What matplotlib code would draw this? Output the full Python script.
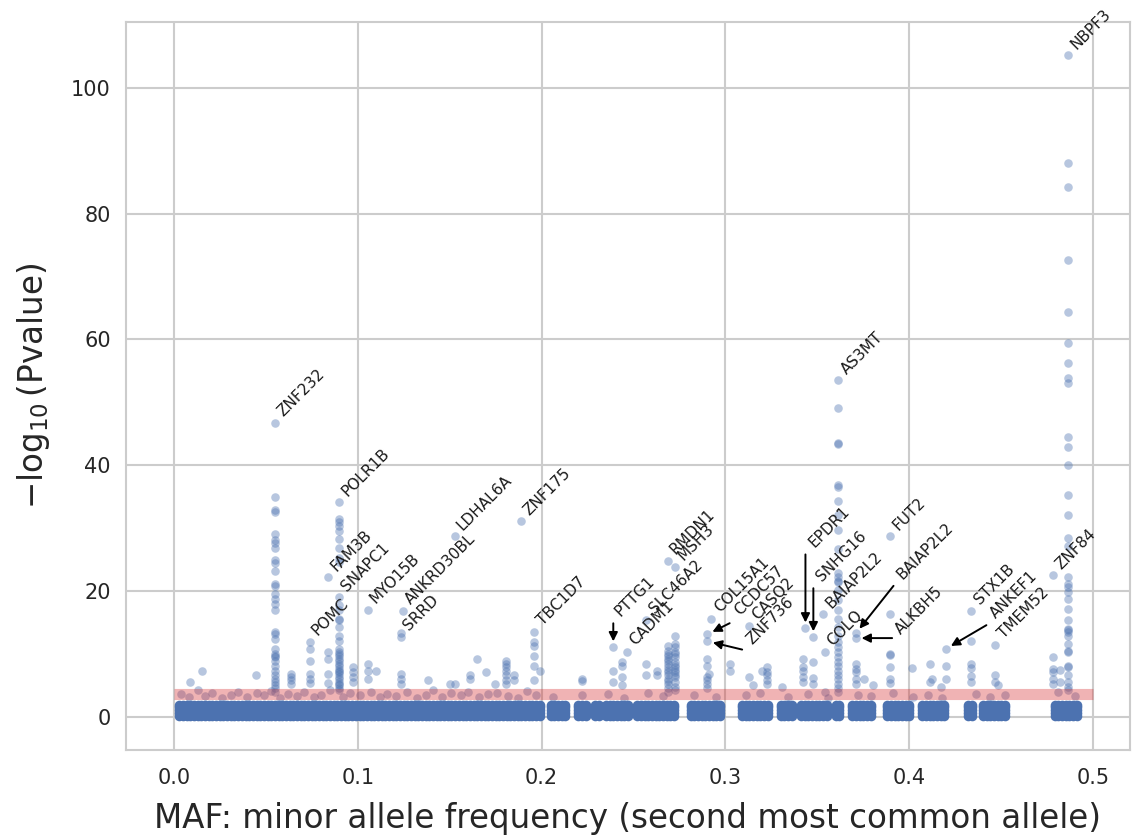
import matplotlib
matplotlib.use("Agg")
import matplotlib.pyplot as plt

# dense band of SNPs near the bottom: MAF of each column of the band
base_maf = [0.003, 0.005, 0.007, 0.009, 0.011, 0.013, 0.015, 0.017, 0.019, 0.021,
            0.023, 0.025, 0.027, 0.029, 0.031, 0.033, 0.035, 0.037, 0.039, 0.041,
            0.043, 0.045, 0.047, 0.049, 0.051, 0.053, 0.055, 0.057, 0.059, 0.061,
            0.063, 0.065, 0.067, 0.069, 0.071, 0.073, 0.075, 0.077, 0.079, 0.081,
            0.083, 0.085, 0.087, 0.089, 0.091, 0.093, 0.095, 0.097, 0.099, 0.101,
            0.103, 0.105, 0.107, 0.109, 0.111, 0.113, 0.115, 0.117, 0.119, 0.121,
            0.123, 0.125, 0.127, 0.129, 0.131, 0.133, 0.135, 0.137, 0.139, 0.141,
            0.143, 0.145, 0.147, 0.149, 0.151, 0.153, 0.155, 0.157, 0.159, 0.161,
            0.163, 0.165, 0.167, 0.169, 0.171, 0.173, 0.175, 0.177, 0.179, 0.181,
            0.183, 0.185, 0.187, 0.189, 0.191, 0.193, 0.195, 0.197, 0.199,
            0.205, 0.207, 0.209, 0.211, 0.213,
            0.220, 0.222, 0.224,
            0.229, 0.231,
            0.235, 0.237, 0.239, 0.241, 0.243, 0.245, 0.247,
            0.252, 0.254, 0.256, 0.258, 0.260, 0.262, 0.264, 0.266, 0.268, 0.270, 0.272,
            0.281, 0.283, 0.285, 0.287, 0.289, 0.291, 0.293, 0.295, 0.297,
            0.309, 0.311, 0.313, 0.315, 0.317, 0.319, 0.321, 0.323,
            0.330, 0.332, 0.334, 0.336,
            0.341, 0.343, 0.345, 0.347, 0.349, 0.351, 0.353, 0.355,
            0.360, 0.362,
            0.369, 0.371, 0.373, 0.375, 0.377, 0.379,
            0.388, 0.390, 0.392, 0.394, 0.396, 0.398, 0.400,
            0.407, 0.409, 0.411, 0.413, 0.415, 0.417, 0.419,
            0.432, 0.434,
            0.440, 0.442, 0.444, 0.446, 0.448, 0.450, 0.452,
            0.479, 0.481, 0.483, 0.485, 0.487, 0.489, 0.491]
# -log10 p values filling each column of the band
base_levels = [0.1, 0.6, 1.1, 1.5, 1.9]

# loose SNPs inside the threshold band
band_maf = [0.004, 0.008, 0.013, 0.017, 0.021, 0.026, 0.031, 0.035, 0.040, 0.045,
            0.049, 0.053, 0.058, 0.062, 0.067, 0.071, 0.076, 0.080, 0.085, 0.092,
            0.096, 0.101, 0.107, 0.112, 0.116, 0.121, 0.127, 0.132, 0.137, 0.141,
            0.146, 0.151, 0.156, 0.160, 0.166, 0.171, 0.176, 0.182, 0.187, 0.192,
            0.197, 0.206, 0.222, 0.236, 0.245, 0.258, 0.266, 0.283, 0.295, 0.311,
            0.319, 0.334, 0.345, 0.356, 0.372, 0.379, 0.391, 0.402, 0.410, 0.418,
            0.436, 0.444, 0.452, 0.481, 0.490]
band_logp = [3.6, 3.1, 4.2, 3.3, 3.8, 3.0, 3.5, 4.0, 3.2, 3.7,
             3.4, 4.1, 3.0, 3.6, 3.3, 3.9, 3.1, 3.5, 4.3, 3.2,
             3.8, 3.4, 4.0, 3.1, 3.6, 3.3, 3.9, 3.0, 3.5, 4.2,
             3.2, 3.7, 3.4, 4.0, 3.1, 3.6, 3.8, 3.3, 3.0, 4.1,
             3.5, 3.2, 3.4, 3.6, 3.0, 3.8, 3.3, 3.5, 3.1, 3.4,
             3.7, 3.2, 3.6, 3.0, 3.5, 3.3, 3.8, 3.1, 3.4, 3.0,
             3.6, 3.2, 3.5, 3.9, 3.3]

# vertical stacks of strongly associated SNPs
stack_maf = [0.0549, 0.0897, 0.2685, 0.2728, 0.3614, 0.4864]
stack_logp = [
    [35.0, 32.9, 32.6, 29.0, 28.1, 27.7, 26.9, 24.9, 24.4, 23.2, 21.1, 20.8,
     19.5, 18.7, 17.9, 16.9, 13.4, 13.2, 12.4, 10.8, 10.0, 9.7, 9.5, 8.9, 8.1,
     7.3, 6.6, 6.0, 5.5, 5.0, 4.5, 4.0],
    [31.4, 30.9, 30.4, 29.6, 28.3, 26.9, 25.3, 24.6, 17.7, 16.9, 15.6, 15.3,
     14.2, 12.9, 12.1, 10.8, 10.3, 10.0, 9.7, 9.2, 8.8, 8.4, 8.0, 7.6, 7.3,
     7.1, 6.8, 6.3, 6.0, 5.5, 5.2, 5.0, 4.6, 4.2],
    [11.3, 10.5, 10.0, 9.6, 9.2, 8.8, 8.4, 7.9, 7.5, 7.1, 6.6, 6.0, 5.6, 5.2,
     4.5, 4.0],
    [12.9, 11.6, 11.1, 10.3, 9.9, 9.5, 8.7, 8.3, 7.9, 7.5, 7.1, 6.7, 6.3, 5.5,
     4.8, 4.2],
    [49.1, 43.6, 43.4, 36.9, 36.5, 34.3, 32.1, 29.7, 26.7, 22.8, 22.2, 21.6,
     21.4, 20.1, 18.5, 16.9, 15.6, 14.2, 12.9, 11.9, 11.1, 10.3, 9.5, 8.7, 8.1,
     7.3, 6.6, 6.0, 5.2, 4.6, 4.0],
    [88.0, 84.3, 72.6, 64.3, 59.5, 56.3, 53.8, 53.0, 44.5, 42.9, 40.0, 35.3,
     32.1, 28.5, 27.2, 22.2, 21.1, 20.7, 19.8, 18.7, 17.1, 15.3, 14.0, 13.8,
     13.5, 12.9, 11.6, 10.5, 10.3, 8.1, 7.9, 6.6, 5.5, 4.8, 4.2],
]

# other SNPs above the band
other_maf = [0.0087, 0.0152, 0.0446, 0.0636, 0.0636, 0.0636, 0.0636, 0.0739, 0.0739, 0.0739,
             0.0739, 0.0739, 0.0837, 0.0837, 0.0837, 0.0837, 0.0973, 0.0973, 0.0973, 0.0973,
             0.1054, 0.1054, 0.1054, 0.1098, 0.1234, 0.1234, 0.1234, 0.1234, 0.1380, 0.1527,
             0.1500, 0.1610, 0.1610, 0.1650, 0.1696, 0.1745, 0.1804, 0.1804, 0.1804, 0.1804,
             0.1804, 0.1804, 0.1804, 0.1848, 0.1848, 0.1960, 0.1960, 0.1960, 0.1960, 0.1960,
             0.1990, 0.2220, 0.2220, 0.2390, 0.2390, 0.2440, 0.2440, 0.2440, 0.2440, 0.2570,
             0.2570, 0.2630, 0.2630, 0.2902, 0.2902, 0.2902, 0.2902, 0.2902, 0.2902, 0.2910,
             0.3027, 0.3027, 0.3130, 0.3150, 0.3228, 0.3228, 0.3228, 0.3228, 0.3228, 0.3200,
             0.3310, 0.3424, 0.3424, 0.3424, 0.3424, 0.3424, 0.3478, 0.3478, 0.3478, 0.3540,
             0.3710, 0.3710, 0.3710, 0.3710, 0.3710, 0.3755, 0.3800, 0.3897, 0.3897, 0.3897,
             0.3897, 0.3897, 0.3897, 0.4016, 0.4110, 0.4110, 0.4125, 0.4170, 0.4200, 0.4200,
             0.4337, 0.4337, 0.4337, 0.4337, 0.4337, 0.4467, 0.4467, 0.4480, 0.4780, 0.4780,
             0.4780, 0.4780, 0.4780, 0.4820, 0.4820]
other_logp = [5.5, 7.3, 6.6, 6.8, 6.3, 5.8, 5.2, 10.8, 8.8, 6.8,
              6.0, 5.4, 10.3, 9.2, 6.8, 5.4, 7.9, 7.1, 6.3, 5.5,
              8.4, 7.3, 6.0, 7.3, 13.3, 6.8, 6.0, 5.2, 5.8, 5.2,
              5.2, 6.6, 6.0, 9.2, 7.1, 5.2, 8.9, 8.4, 7.9, 7.3,
              6.6, 5.8, 5.2, 6.6, 5.8, 11.9, 11.3, 9.7, 8.1, 5.8,
              7.2, 6.0, 5.6, 7.3, 5.5, 8.7, 8.1, 6.3, 5.0, 8.4,
              6.6, 7.3, 6.6, 9.2, 8.1, 6.3, 5.8, 5.2, 4.6, 6.8,
              8.4, 7.3, 6.3, 5.0, 7.9, 7.1, 6.6, 5.8, 5.2, 7.3,
              4.7, 9.2, 7.9, 7.3, 6.3, 5.5, 8.7, 6.1, 5.2, 4.0,
              8.4, 7.6, 7.1, 6.0, 5.2, 6.0, 5.0, 16.3, 10.0, 9.8,
              7.9, 6.0, 5.4, 7.7, 8.4, 5.5, 6.0, 4.7, 8.1, 6.0,
              12.0, 8.4, 7.7, 6.4, 5.5, 6.6, 5.5, 5.0, 9.5, 7.6,
              7.1, 6.0, 5.2, 7.5, 5.5]

# labelled genes (text next to the point)
gene_names = ["ZNF232", "POLR1B", "FAM3B", "SNAPC1", "POMC", "MYO15B", "ANKRD30BL",
              "SRRD", "LDHAL6A", "ZNF175", "TBC1D7", "CADM1", "SLC46A2", "RMDN1",
              "MSH3", "COL15A1", "CASQ2", "BAIAP2L2", "COLQ", "AS3MT", "FUT2",
              "STX1B", "TMEM52", "ZNF84", "NBPF3"]
gene_maf = [0.0549, 0.0897, 0.0837, 0.0897, 0.0739, 0.1054, 0.1245,
            0.1234, 0.1527, 0.1886, 0.1960, 0.2462, 0.2570, 0.2685,
            0.2728, 0.2924, 0.3130, 0.3533, 0.3540, 0.3614, 0.3897,
            0.4337, 0.4467, 0.4780, 0.4864]
gene_logp = [46.7, 34.1, 22.2, 19.0, 11.9, 17.0, 16.8,
             12.7, 28.7, 31.1, 13.5, 10.3, 15.4, 24.8,
             23.8, 15.6, 14.4, 16.3, 10.3, 53.5, 28.7,
             16.8, 11.4, 22.5, 105.2]

# labelled genes (text placed away, with an arrow)
arrow_names = ["PTTG1", "CCDC57", "ZNF736", "EPDR1", "SNHG16", "BAIAP2L2", "ALKBH5", "ANKEF1"]
arrow_maf = [0.2390, 0.2902, 0.2902, 0.3435, 0.3478, 0.3710, 0.3710, 0.4200]
arrow_logp = [11.1, 13.1, 12.0, 14.1, 12.7, 13.3, 12.5, 10.8]

# layout: offsets in points (arrow tail, text anchor)
arrow_tail = [(0, 17), (16, 8), (25, -6), (0, 53), (0, 35), (27, 34), (26, 0), (29, 17)]
arrow_text = [(7, 20), (25, 12), (34, -4), (8, 56), (8, 38), (35, 37), (34, 1), (37, 20)]

blue = "#4C72B0"
grid = "#cccccc"

fig = plt.figure(figsize=(11.32, 8.4), dpi=100)
ax = fig.add_axes([126 / 1132, 90 / 840, 1004 / 1132, 728 / 840])

bx, by = [], []
for m in base_maf:
    for lv in base_levels:
        bx.append(m)
        by.append(lv)
ax.scatter(bx, by, s=48, color=blue, linewidths=0, alpha=1.0, zorder=2)

sx, sy = [], []
for m, vals in zip(stack_maf, stack_logp):
    sx += [m] * len(vals)
    sy += vals
ax.scatter(band_maf + other_maf + sx + gene_maf + arrow_maf,
           band_logp + other_logp + sy + gene_logp + arrow_logp,
           s=38, color=blue, linewidths=0, alpha=0.4, zorder=2)

ax.hlines(3.55, 0.0, 0.5, color="tab:red", alpha=0.35, linewidth=8, zorder=3)

for name, m, p in zip(gene_names, gene_maf, gene_logp):
    ax.annotate(name, (m, p), xytext=(7.5, 2.5), textcoords="offset points",
                rotation=45, rotation_mode="anchor", ha="left", va="bottom",
                fontsize=11, color="#1a1a1a", zorder=5)

for name, m, p, tail, txt in zip(arrow_names, arrow_maf, arrow_logp, arrow_tail, arrow_text):
    ax.annotate("", (m, p), xytext=tail, textcoords="offset points",
                arrowprops=dict(arrowstyle="-|>", color="black", lw=1.4,
                                mutation_scale=13, shrinkA=0, shrinkB=4), zorder=5)
    ax.annotate(name, (m, p), xytext=txt, textcoords="offset points",
                rotation=45, rotation_mode="anchor", ha="left", va="bottom",
                fontsize=11, color="#1a1a1a", zorder=5)

ax.set_xlim(-0.026, 0.52)
ax.set_ylim(-5.3, 110.5)
ax.set_xticks([0.0, 0.1, 0.2, 0.3, 0.4, 0.5])
ax.set_xticklabels(["0.0", "0.1", "0.2", "0.3", "0.4", "0.5"])
ax.set_yticks([0, 20, 40, 60, 80, 100])
ax.grid(True, color=grid, linewidth=1.5, zorder=0)
ax.set_axisbelow(True)
for sp in ax.spines.values():
    sp.set_color(grid)
    sp.set_linewidth(1.5)
ax.tick_params(length=0, labelsize=15, labelcolor="#262626")
ax.tick_params(axis="x", pad=13)
ax.tick_params(axis="y", pad=11)
ax.set_xlabel("MAF: minor allele frequency (second most common allele)",
              fontsize=23.5, color="#262626", labelpad=10)
ax.set_ylabel(r"$-\log_{10}$(Pvalue)", fontsize=23.5, color="#262626", labelpad=14)

fig.savefig("out.png", dpi=100)
